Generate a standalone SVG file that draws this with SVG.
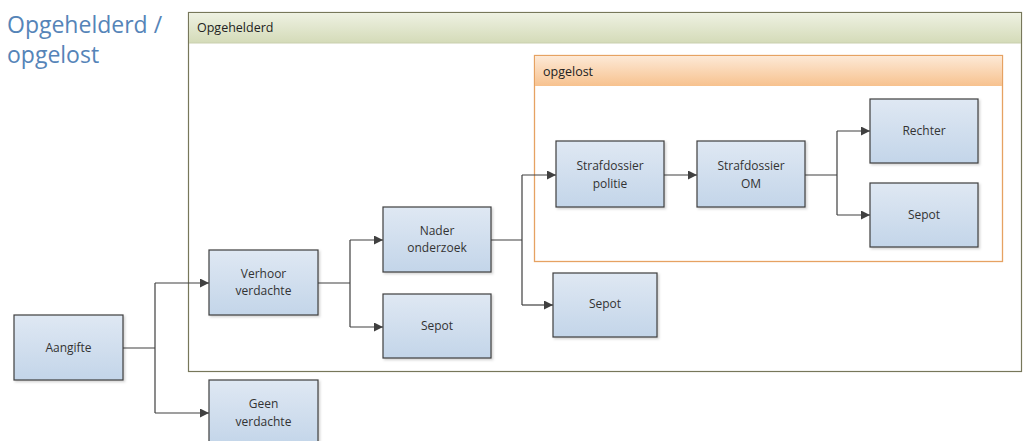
<svg xmlns="http://www.w3.org/2000/svg" width="1023" height="441" viewBox="0 0 1023 441">
<defs>
<linearGradient id="gBlue" x1="0" y1="0" x2="0" y2="1"><stop offset="0" stop-color="#dfe8f3"/><stop offset="1" stop-color="#c3d5e9"/></linearGradient>
<linearGradient id="gGreen" x1="0" y1="0" x2="0" y2="1"><stop offset="0" stop-color="#eef1e2"/><stop offset="1" stop-color="#d4dbb8"/></linearGradient>
<linearGradient id="gOrange" x1="0" y1="0" x2="0" y2="1"><stop offset="0" stop-color="#fde9d6"/><stop offset="1" stop-color="#f7c28f"/></linearGradient>
<marker id="arr" viewBox="0 0 10 10" refX="10" refY="5" markerWidth="9" markerHeight="9" markerUnits="userSpaceOnUse" orient="auto"><path d="M0,0 L10,5 L0,10 z" fill="#404040"/></marker>
<filter id="sh" x="-10%" y="-10%" width="130%" height="130%"><feDropShadow dx="1.5" dy="1.5" stdDeviation="1" flood-color="#000" flood-opacity="0.18"/></filter>
</defs>
<style>
.node rect{fill:url(#gBlue);stroke:#3f3f3f;stroke-width:1.2;filter:url(#sh)}
.node text,.lbl{font-family:"Open Sans","Liberation Sans",sans-serif;font-size:12px;fill:#333;text-anchor:middle}
.hdr{font-family:"Open Sans","Liberation Sans",sans-serif;font-size:12.5px;fill:#222}
.title{font-family:"Open Sans","Liberation Sans",sans-serif;font-size:23px;fill:#5584b8}
.conn path{fill:none;stroke:#404040;stroke-width:1.2}
</style>
<rect width="1023" height="441" fill="#fff"/>
<g id="title">
<text class="title" x="7" y="33">Opgehelderd /</text>
<text class="title" x="7" y="63">opgelost</text>
</g>
<g id="container-opgehelderd">
<rect x="188.5" y="12.5" width="833" height="359" fill="#fff" stroke="#77775a" stroke-width="1.2"/>
<rect x="189" y="13" width="832" height="30" fill="url(#gGreen)"/>
<line x1="189" y1="43" x2="1021" y2="43" stroke="#c9cfae" stroke-width="1"/>
<text class="hdr" x="197" y="32">Opgehelderd</text>
</g>
<g id="container-opgelost">
<rect x="534.5" y="55.5" width="468" height="206" fill="#fff" stroke="#e6a262" stroke-width="1.3"/>
<rect x="535" y="56" width="467" height="30" fill="url(#gOrange)"/>
<text class="hdr" x="543" y="76">opgelost</text>
</g>
<g id="connectors" class="conn">
<path d="M123,348 H155 M155,283 V413"/>
<path d="M155,283 H209" marker-end="url(#arr)"/>
<path d="M155,413 H209" marker-end="url(#arr)"/>
<path d="M318,283 H350 M350,240 V327"/>
<path d="M350,240 H383" marker-end="url(#arr)"/>
<path d="M350,327 H383" marker-end="url(#arr)"/>
<path d="M491,240 H522 M522,175 V305"/>
<path d="M522,175 H556" marker-end="url(#arr)"/>
<path d="M522,305 H553" marker-end="url(#arr)"/>
<path d="M664,175 H697" marker-end="url(#arr)"/>
<path d="M805,175 H837 M837,131 V215"/>
<path d="M837,131 H870" marker-end="url(#arr)"/>
<path d="M837,215 H870" marker-end="url(#arr)"/>
</g>
<g id="n-aangifte" class="node"><rect x="14" y="315" width="109" height="65"/><text x="68.5" y="352">Aangifte</text></g>
<g id="n-verhoor" class="node"><rect x="209" y="250" width="109" height="65"/><text x="263.5" y="278">Verhoor</text><text x="263.5" y="295">verdachte</text></g>
<g id="n-geen" class="node"><rect x="209" y="380" width="109" height="65"/><text x="263.5" y="408">Geen</text><text x="263.5" y="426">verdachte</text></g>
<g id="n-nader" class="node"><rect x="383" y="207" width="108" height="65"/><text x="437" y="235">Nader</text><text x="437" y="252">onderzoek</text></g>
<g id="n-sepot1" class="node"><rect x="383" y="294" width="108" height="64"/><text x="437" y="330">Sepot</text></g>
<g id="n-sepot2" class="node"><rect x="553" y="273" width="104" height="64"/><text x="605" y="308">Sepot</text></g>
<g id="n-politie" class="node"><rect x="556" y="141" width="108" height="66"/><text x="610" y="170">Strafdossier</text><text x="610" y="188">politie</text></g>
<g id="n-om" class="node"><rect x="697" y="141" width="108" height="66"/><text x="751" y="170">Strafdossier</text><text x="751" y="188">OM</text></g>
<g id="n-rechter" class="node"><rect x="870" y="99" width="108" height="64"/><text x="924" y="135">Rechter</text></g>
<g id="n-sepot3" class="node"><rect x="870" y="183" width="108" height="64"/><text x="924" y="219">Sepot</text></g>
</svg>
